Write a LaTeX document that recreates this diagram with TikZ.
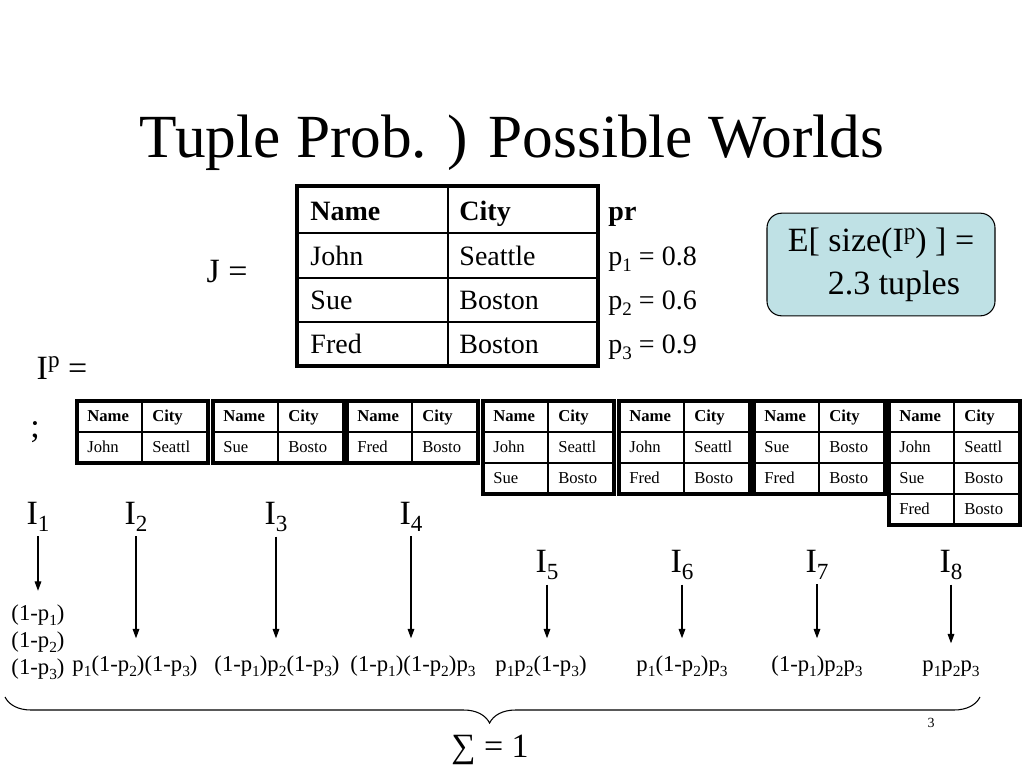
\documentclass[tikz,border=0pt]{standalone}
\usepackage{fontspec}
\setmainfont{Liberation Serif}
\usetikzlibrary{arrows.meta,decorations.pathreplacing,positioning}
\definecolor{boxcyan}{RGB}{191,225,229}
\newcommand{\lowidx}[1]{\raisebox{-0.5ex}{\scalebox{0.68}{#1}}}
\newcommand{\highidx}[1]{\raisebox{0.75ex}{\scalebox{0.68}{#1}}}
\newcommand{\psub}[1]{p\lowidx{#1}}
\newcommand{\worldtab}[3]{
  \foreach \r in {2,...,#3}
    \draw[gridrule] (#2,{401+31*\r}) -- (#2+131,{401+31*\r});
  \draw[gridrule] (#2+65,401) -- (#2+65,{401+31*(#3+1)});
  \draw[headrule] (#2,432) -- (#2+131,432);
  \draw[framerule] (#2,401) rectangle (#2+131,{401+31*(#3+1)});
  \node[smallhead] (#1-h1) at (#2+10,421) {Name};
  \node[smallhead] (#1-h2) at (#2+75,421) {City};
}
\newcommand{\worldrow}[5]{
  \node[smallcell] (#1-#3a) at (#2+10,{421+31*#3}) {#4};
  \node[smallcell] (#1-#3b) at (#2+75,{421+31*#3}) {#5};
}
\tikzset{
  slidetext/.style={inner sep=0pt, anchor=base, font=\fontsize{12.5}{15}\selectfont},
  titletext/.style={slidetext, scale=3.68},
  bigtext/.style={slidetext, scale=2.04},
  cell/.style={slidetext, anchor=base west, scale=1.68},
  headcell/.style={cell, font=\fontsize{12.5}{15}\selectfont\bfseries},
  smallcell/.style={slidetext, anchor=base west},
  smallhead/.style={smallcell, font=\fontsize{12.5}{15}\selectfont\bfseries},
  formula/.style={slidetext, scale=1.36},
  framerule/.style={line width=3pt},
  headrule/.style={line width=2.2pt},
  gridrule/.style={line width=1pt},
  worldarrow/.style={line width=0.8pt, -{Triangle[length=7pt,width=5pt]},
                     shorten <=3pt, shorten >=12.5pt},
  sumbrace/.style={decorate, line width=0.8pt,
                   decoration={brace, mirror, amplitude=19.5pt, aspect=0.497}},
  ebox/.style={draw, line width=0.8pt, fill=boxcyan, rounded corners=11pt,
               minimum width=171pt, minimum height=77pt}
}

\begin{document}
\begin{tikzpicture}[x=0.75pt, y=-0.75pt]
  \useasboundingbox (0,0) rectangle (1024,768);
  \node[titletext] (title) at (512,157) {Tuple Prob. ) Possible Worlds};

  % the probabilistic table J
  \draw[gridrule] (297,278) -- (598,278);
  \draw[gridrule] (297,322) -- (598,322);
  \draw[gridrule] (448,186) -- (448,366);
  \draw[headrule] (297,233) -- (598,233);
  \draw[framerule] (297,186) rectangle (598,366);
  \node[headcell] (jh1) at (310,220) {Name};
  \node[headcell] (jh2) at (459,220) {City};
  \node[headcell] (jh3) at (608,220) {pr};
  \node[cell] (j1a) at (310,265) {John};
  \node[cell] (j1b) at (459,265) {Seattle};
  \node[cell] (j1c) at (608,265) {\psub{1} = 0.8};
  \node[cell] (j2a) at (310,309) {Sue};
  \node[cell] (j2b) at (459,309) {Boston};
  \node[cell] (j2c) at (608,309) {\psub{2} = 0.6};
  \node[cell] (j3a) at (310,353) {Fred};
  \node[cell] (j3b) at (459,353) {Boston};
  \node[cell] (j3c) at (608,353) {\psub{3} = 0.9};
  \node[bigtext] (jeq) at (227,282) {J =};
  \node[ebox] (exp) at (881,264.5) {};
  \node[bigtext, anchor=center, align=left, font=\fontsize{12.5}{15.7}\selectfont]
    (expt) at (exp.center) {E[ size(I\highidx{p}) ] =\\\hspace*{14.7pt}2.3 tuples};

  % possible worlds
  \node[bigtext] (ipeq) at (62,379) {I\highidx{p} =};
  \node[bigtext] (semi) at (35,437) {;};
  \worldtab{w2}{77}{1}
  \worldrow{w2}{77}{1}{John}{Seattl}
  \worldtab{w3}{213}{1}
  \worldrow{w3}{213}{1}{Sue}{Bosto}
  \worldtab{w4}{347}{1}
  \worldrow{w4}{347}{1}{Fred}{Bosto}
  \worldtab{w5}{483}{2}
  \worldrow{w5}{483}{1}{John}{Seattl}
  \worldrow{w5}{483}{2}{Sue}{Bosto}
  \worldtab{w6}{619}{2}
  \worldrow{w6}{619}{1}{John}{Seattl}
  \worldrow{w6}{619}{2}{Fred}{Bosto}
  \worldtab{w7}{754}{2}
  \worldrow{w7}{754}{1}{Sue}{Bosto}
  \worldrow{w7}{754}{2}{Fred}{Bosto}
  \worldtab{w8}{889}{3}
  \worldrow{w8}{889}{1}{John}{Seattl}
  \worldrow{w8}{889}{2}{Sue}{Bosto}
  \worldrow{w8}{889}{3}{Fred}{Bosto}

  % world labels and their probabilities
  \node[bigtext] (i1) at (38,524) {I\lowidx{1}};
  \node[bigtext] (i2) at (136,524) {I\lowidx{2}};
  \node[bigtext] (i3) at (276,524) {I\lowidx{3}};
  \node[bigtext] (i4) at (411,524) {I\lowidx{4}};
  \node[bigtext] (i5) at (547,572) {I\lowidx{5}};
  \node[bigtext] (i6) at (682,572) {I\lowidx{6}};
  \node[bigtext] (i7) at (817,572) {I\lowidx{7}};
  \node[bigtext] (i8) at (951,572) {I\lowidx{8}};
  \node[formula, anchor=center, align=center, font=\fontsize{12.5}{14.9}\selectfont]
    (f1) at (38,642) {(1-\psub{1})\\(1-\psub{2})\\(1-\psub{3})};
  \node[formula] (f2) at (135,671) {\psub{1}(1-\psub{2})(1-\psub{3})};
  \node[formula] (f3) at (277,671) {(1-\psub{1})\psub{2}(1-\psub{3})};
  \node[formula] (f4) at (413,671) {(1-\psub{1})(1-\psub{2})\psub{3}};
  \node[formula] (f5) at (541,671) {\psub{1}\psub{2}(1-\psub{3})};
  \node[formula] (f6) at (682,671) {\psub{1}(1-\psub{2})\psub{3}};
  \node[formula] (f7) at (817,671) {(1-\psub{1})\psub{2}\psub{3}};
  \node[formula] (f8) at (951,671) {\psub{1}\psub{2}\psub{3}};
  \draw[worldarrow, shorten >=10pt] (i1.south) -- (i1.south |- f1.north);
  \foreach \n in {2,...,8}
    \draw[worldarrow] (i\n.south) -- (i\n.south |- f\n.north);

  \coordinate (bl) at (5,697);
  \coordinate (br) at (980,697);
  \draw[sumbrace] (bl) -- (br);
  \node[bigtext] (sum) at (490,757) {∑ = 1};
  \node[slidetext, scale=0.84] (num) at (931,727) {3};
\end{tikzpicture}
\end{document}
